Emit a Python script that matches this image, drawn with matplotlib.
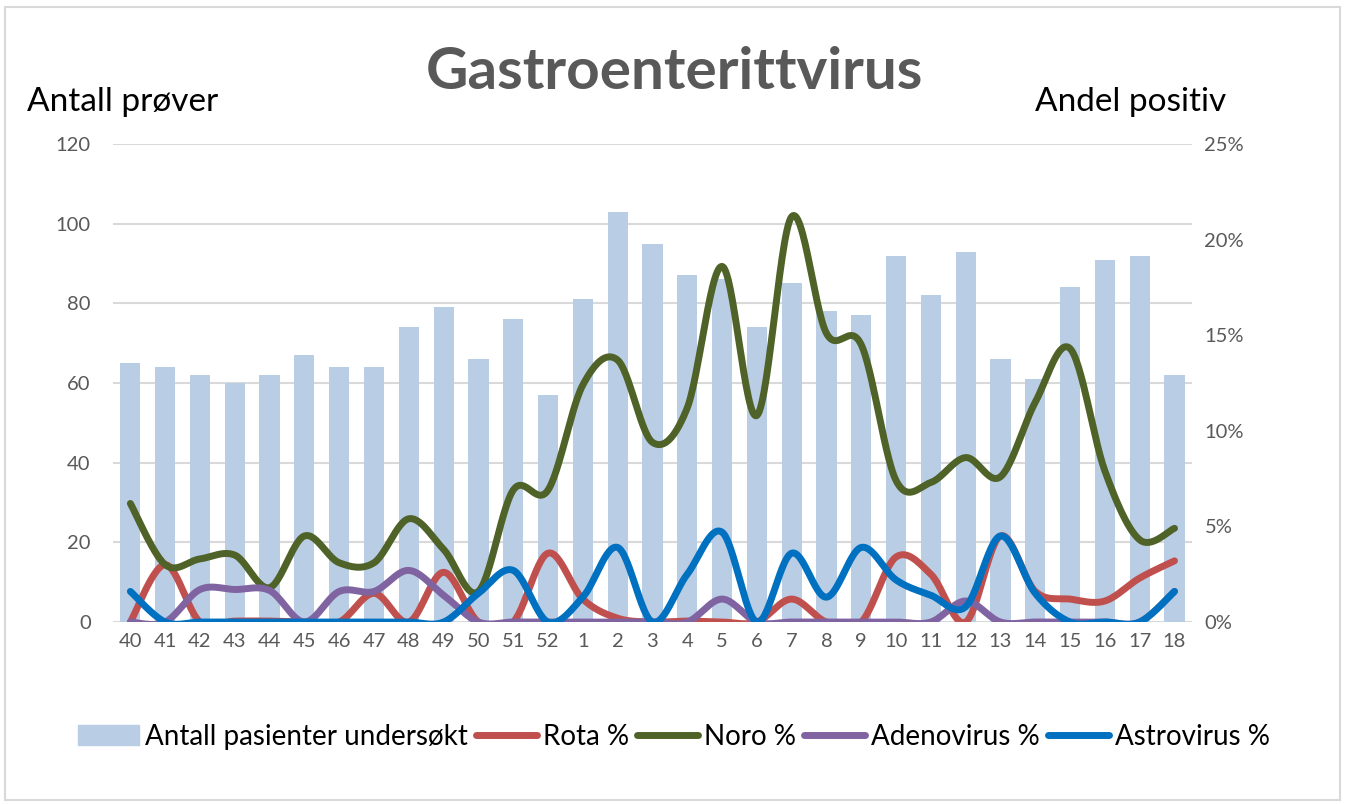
import numpy as np
import matplotlib.pyplot as plt
from matplotlib.patches import Patch, Rectangle
from matplotlib.lines import Line2D

plt.rcParams["font.family"] = ["Lato", "DejaVu Sans"]

weeks = [40, 41, 42, 43, 44, 45, 46, 47, 48, 49, 50, 51, 52,
         1, 2, 3, 4, 5, 6, 7, 8, 9, 10, 11, 12, 13, 14, 15, 16, 17, 18]

antall = [65, 64, 62, 60, 62, 67, 64, 64, 74, 79, 66, 76, 57,
          81, 103, 95, 87, 86, 74, 85, 78, 77, 92, 82, 93, 66, 61, 84, 91, 92, 62]

rota = [0.0, 3.0, 0.0, 0.05, 0.05, 0.0, 0.0, 1.5, 0.0, 2.6, 0.0, 0.0, 3.6,
        1.2, 0.2, 0.0, 0.05, 0.0, 0.0, 1.2, 0.0, 0.0, 3.4, 2.5, 0.0, 4.5,
        1.6, 1.2, 1.1, 2.3, 3.2]

noro = [6.2, 3.0, 3.3, 3.5, 1.8, 4.5, 3.1, 3.1, 5.4, 3.8, 1.6, 6.9, 6.9,
        12.4, 13.7, 9.4, 11.2, 18.6, 10.8, 21.2, 15.1, 14.5, 7.4, 7.3, 8.6, 7.6,
        11.5, 14.3, 7.9, 4.3, 4.9]

adeno = [0.0, 0.0, 1.7, 1.7, 1.65, 0.0, 1.6, 1.6, 2.7, 1.4, 0.0, 0.0, 0.0,
         0.0, 0.0, 0.0, 0.0, 1.2, 0.0, 0.0, 0.0, 0.0, 0.0, 0.0, 1.1, 0.0,
         0.0, 0.0, 0.0, 0.0, 1.6]

astro = [1.6, 0.0, 0.0, 0.0, 0.0, 0.0, 0.0, 0.0, 0.0, 0.0, 1.5, 2.7, 0.0,
         1.3, 3.9, 0.0, 2.5, 4.7, 0.0, 3.6, 1.3, 3.9, 2.2, 1.4, 0.8, 4.5,
         1.5, 0.0, 0.0, 0.0, 1.6]


def smooth(x, y, n=30):
    # excel-style smoothed line (catmull-rom through the points)
    x = np.asarray(x, float)
    y = np.asarray(y, float)
    px = np.concatenate([[x[0]], x, [x[-1]]])
    py = np.concatenate([[y[0]], y, [y[-1]]])
    t = np.linspace(0, 1, n)[:, None]
    xs, ys = [], []
    for i in range(1, len(px) - 2):
        p0 = np.array([px[i], py[i]])
        p3 = np.array([px[i + 1], py[i + 1]])
        p1 = p0 + (p3 - np.array([px[i - 1], py[i - 1]])) / 6
        p2 = p3 - (np.array([px[i + 2], py[i + 2]]) - p0) / 6
        b = ((1 - t) ** 3) * p0 + 3 * ((1 - t) ** 2) * t * p1 + 3 * (1 - t) * t ** 2 * p2 + t ** 3 * p3
        xs.append(b[:, 0])
        ys.append(b[:, 1])
    return np.concatenate(xs), np.concatenate(ys)


fig = plt.figure(figsize=(13.48, 8.05), dpi=100)
ax = fig.add_axes([0.0838, 0.2273, 0.8004, 0.5938])
x = np.arange(len(weeks))

ax.bar(x, antall, width=0.58, color="#B9CDE5", zorder=2)
ax.set_ylim(0, 120)
ax.set_yticks(range(0, 121, 20))
ax.set_xlim(-0.5, len(weeks) - 0.5)
ax.set_xticks(x)
ax.set_xticklabels([str(w) for w in weeks])
ax.grid(axis="y", color="#D9D9D9", linewidth=1.5, zorder=0)
ax.set_axisbelow(True)
ax.tick_params(axis="both", length=0, labelsize=14.5, labelcolor="#595959")
ax.tick_params(axis="y", pad=16)
ax.tick_params(axis="x", pad=8)
for s in ax.spines.values():
    s.set_visible(False)

ax2 = ax.twinx()
series = [("Rota %", rota, "#C0504D"), ("Noro %", noro, "#4F6228"),
          ("Adenovirus %", adeno, "#8064A2"), ("Astrovirus %", astro, "#0070C0")]
for name, vals, col in series:
    sx, sy = smooth(x, vals)
    ax2.plot(sx, sy, color=col, linewidth=5, solid_capstyle="round", label=name)
ax2.set_ylim(0, 25)
ax2.set_yticks(range(0, 26, 5))
ax2.set_yticklabels([f"{v}%" for v in range(0, 26, 5)])
ax2.tick_params(axis="y", length=0, labelsize=14.5, labelcolor="#595959", pad=9)
for s in ax2.spines.values():
    s.set_visible(False)

fig.text(0.5, 0.91, "Gastroenterittvirus", ha="center", va="center",
         fontsize=42, fontweight="bold", color="#595959")
fig.text(0.02, 0.873, "Antall prøver", ha="left", va="center", fontsize=24, color="black")
fig.text(0.91, 0.873, "Andel positiv", ha="right", va="center", fontsize=24, color="black")

handles = [Patch(color="#B9CDE5", label="Antall pasienter undersøkt")]
for name, vals, col in series:
    handles.append(Line2D([0], [0], color=col, linewidth=5, solid_capstyle="round", label=name))
fig.legend(handles=handles, loc="center", bbox_to_anchor=(0.5, 0.085), ncol=5,
           frameon=False, fontsize=20, handlelength=2.2, handletextpad=0.2,
           columnspacing=0.3)

fig.patches.append(Rectangle((0.004, 0.006), 0.99, 0.985, transform=fig.transFigure,
                             fill=False, edgecolor="#D9D9D9", linewidth=1.5))

fig.savefig("out.png", dpi=100)
